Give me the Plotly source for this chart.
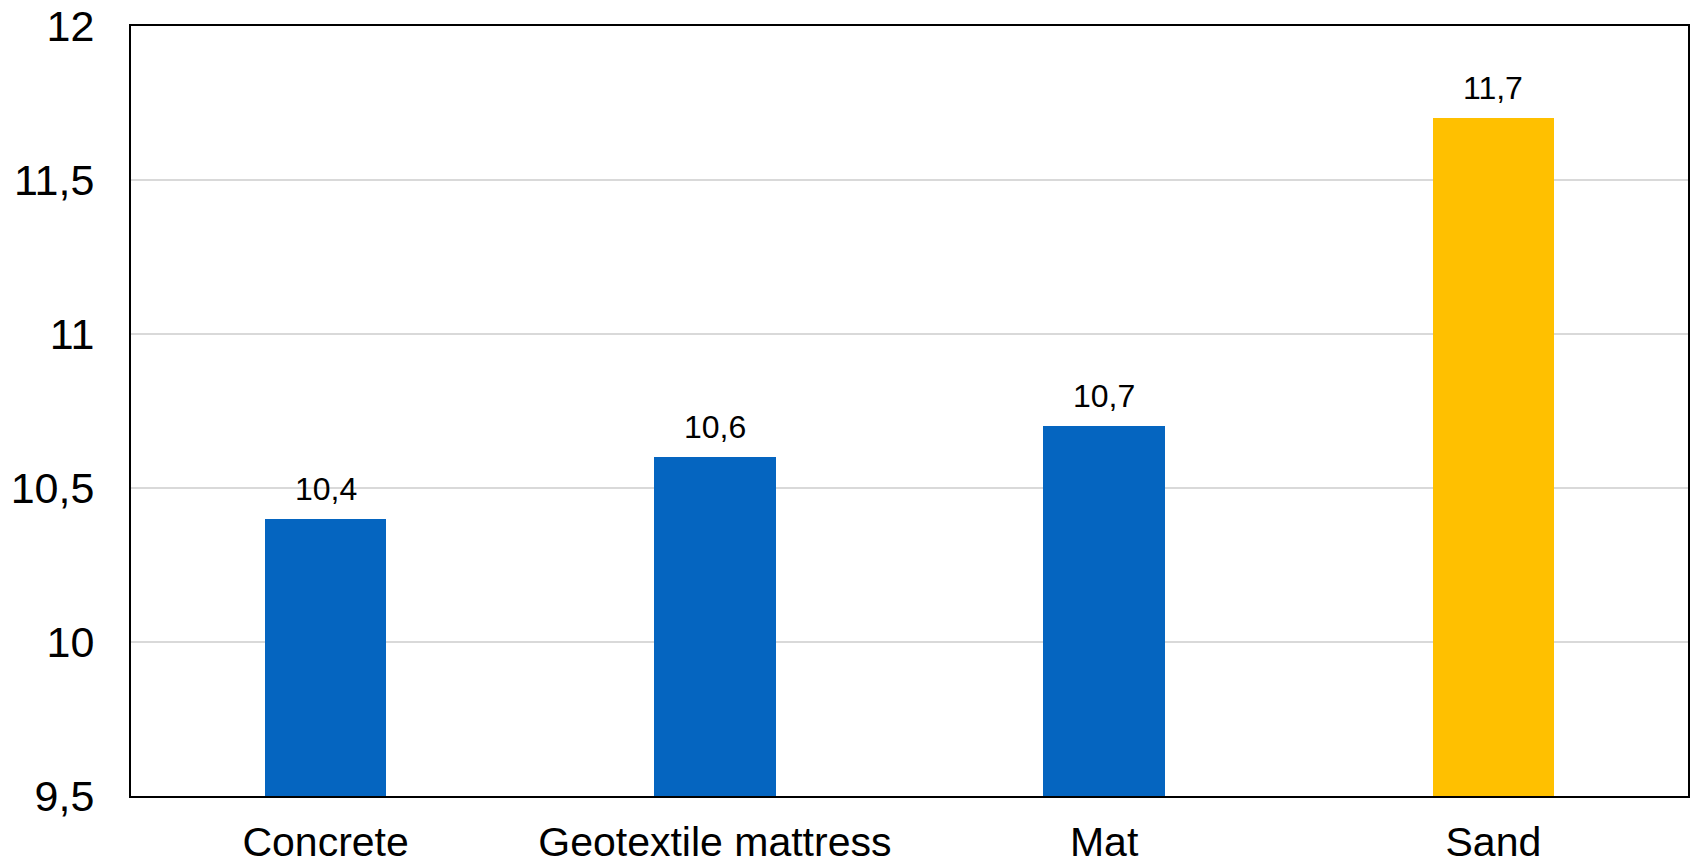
import plotly.graph_objects as go

categories = ["Concrete", "Geotextile mattress", "Mat", "Sand"]
values = [10.4, 10.6, 10.7, 11.7]
bar_colors = ["#0565C0", "#0565C0", "#0565C0", "#FFC000"]
y_ticks = [9.5, 10, 10.5, 11, 11.5, 12]
y_tick_labels = ["9,5", "10", "10,5", "11", "11,5", "12"]

FONT = "Liberation Sans, Arial, sans-serif"
Y_MIN = 9.5

fig = go.Figure()
# bars start at the bottom of the value axis
fig.add_trace(go.Bar(
    x=categories,
    y=[v - Y_MIN for v in values],
    base=Y_MIN,
    marker=dict(color=bar_colors, line=dict(width=0)),
    width=0.3125,
    showlegend=False,
    hoverinfo="skip",
))

for cat, v in zip(categories, values):
    fig.add_annotation(
        x=cat, y=v, xref="x", yref="y",
        text=f"{v:.1f}".replace(".", ","),
        showarrow=False, yanchor="bottom", yshift=10,
        font=dict(family=FONT, size=32, color="#000000"),
    )

fig.update_layout(
    width=1694, height=866,
    margin=dict(l=131, r=6, t=26, b=70, pad=0),
    paper_bgcolor="#ffffff", plot_bgcolor="#ffffff",
    bargap=0,
    font=dict(family=FONT, color="#000000"),
)
fig.update_xaxes(
    showline=True, linecolor="#000000", linewidth=2, mirror=True,
    showgrid=False, ticks="", tickfont=dict(size=41),
    ticklabelstandoff=9, automargin=False,
)
fig.update_yaxes(
    range=[Y_MIN, 12], tickvals=y_ticks, ticktext=y_tick_labels,
    showline=True, linecolor="#000000", linewidth=2, mirror=True,
    showgrid=True, gridcolor="#d9d9d9", gridwidth=1.5,
    zeroline=False, ticks="", tickfont=dict(size=43),
    ticklabelstandoff=26, automargin=False,
)

fig.write_html("out.html")
